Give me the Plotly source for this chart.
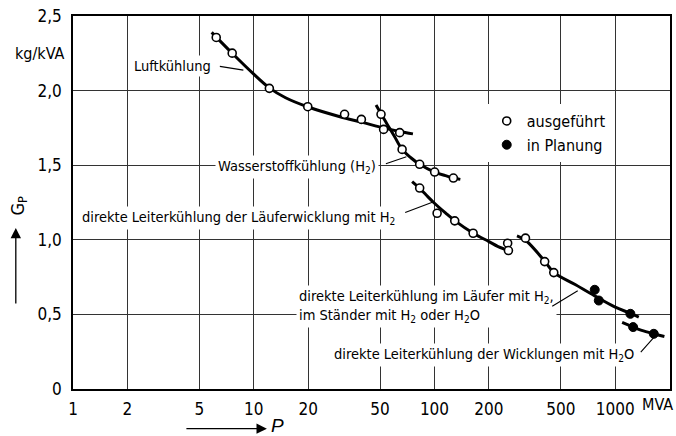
import numpy as np
import plotly.graph_objects as go

FONT = "DejaVu Sans Condensed, Liberation Sans Narrow, Arial Narrow, sans-serif"

# ---- data (P in MVA, G_P in kg/kVA) ----
x_tick_vals = [1, 2, 5, 10, 20, 50, 100, 200, 500, 1000]
x_tick_text = ["1", "2", "5", "10", "20", "50", "100", "200", "500", "1000"]
y_tick_vals = [0, 0.5, 1.0, 1.5, 2.0, 2.5]
y_tick_text = ["0", "0,5", "1,0", "1,5", "2,0", "2,5"]

# fitted curves
luft_P = [5.85, 7.6, 10, 12.2, 15, 20, 30, 40, 52, 64, 76]
luft_G = [2.39, 2.25, 2.11, 2.018, 1.952, 1.89, 1.825, 1.787, 1.75, 1.726, 1.71]
h2_P = [47.5, 50.6, 55, 60, 66.2, 74, 82.8, 100, 115, 127, 139]
h2_G = [1.903, 1.845, 1.77, 1.694, 1.606, 1.55, 1.506, 1.454, 1.43, 1.414, 1.405]
lw_P = [75.2, 82.8, 90, 100, 115, 130, 164, 200, 225, 263]
lw_G = [1.39, 1.345, 1.30, 1.245, 1.18, 1.127, 1.044, 0.988, 0.955, 0.925]
st_P = [286, 320, 407, 457, 600, 770, 1000, 1213, 1350]
st_G = [1.026, 0.995, 0.857, 0.782, 0.70, 0.624, 0.549, 0.507, 0.482]
wk_P = [1092, 1256, 1400, 1634, 1871]
wk_G = [0.446, 0.415, 0.393, 0.370, 0.352]

# measured points: executed (open) and planned (filled)
luft_pts_P = [6.2, 7.6, 12.2, 19.9, 31.8, 39.4, 52.3, 64.2]
luft_pts_G = [2.356, 2.251, 2.015, 1.892, 1.841, 1.807, 1.740, 1.718]
h2_pts_P = [50.6, 66.2, 82.8, 100.2, 127.2]
h2_pts_G = [1.841, 1.606, 1.506, 1.454, 1.414]
lw_pts_P = [82.8, 103.4, 129.4, 163.6, 254, 256.5]
lw_pts_G = [1.347, 1.178, 1.127, 1.044, 0.977, 0.928]
st_pts_P = [318.7, 407, 457]
st_pts_G = [1.011, 0.854, 0.780]
plan_P = [770, 811, 1213, 1256, 1634]
plan_G = [0.665, 0.593, 0.504, 0.415, 0.370]

fig = go.Figure()

for P, G in [(luft_P, luft_G), (h2_P, h2_G), (lw_P, lw_G), (st_P, st_G), (wk_P, wk_G)]:
    fig.add_trace(go.Scatter(x=P, y=G, mode="lines",
                             line=dict(color="black", width=3, shape="spline", smoothing=1.0),
                             showlegend=False, hoverinfo="skip"))

open_P = luft_pts_P + h2_pts_P + lw_pts_P + st_pts_P
open_G = luft_pts_G + h2_pts_G + lw_pts_G + st_pts_G
fig.add_trace(go.Scatter(x=open_P, y=open_G, mode="markers", name="ausgeführt",
                         marker=dict(symbol="circle", size=8, color="white", line=dict(color="black", width=1.6))))
fig.add_trace(go.Scatter(x=plan_P, y=plan_G, mode="markers", name="in Planung",
                         marker=dict(symbol="circle", size=9, color="black", line=dict(color="black", width=1))))

LBL = 14.5
annotations = []
# curve labels (text with white background); x in log10(P)
labels = [
    ("Luftkühlung", 0.78, 2.164, "right"),
    ("Wasserstoffkühlung (H<sub>2</sub>)", 1.695, 1.491, "right"),
    ("direkte Leiterkühlung der Läuferwicklung mit H<sub>2</sub>", 1.80, 1.147, "right"),
    ("direkte Leiterkühlung im Läufer mit H<sub>2</sub>,<br>im Ständer mit H<sub>2</sub> oder H<sub>2</sub>O", 1.2357, 0.554, "left"),
    ("direkte Leiterkühlung der Wicklungen mit H<sub>2</sub>O", 3.123, 0.230, "right"),
]
for t, x, y, anc in labels:
    annotations.append(dict(text=t, x=x, y=y, xref="x", yref="y", xanchor=anc, yanchor="middle", align="left",
                            showarrow=False, bgcolor="white", borderpad=2,
                            font=dict(family=FONT, size=LBL, color="black")))

# leader lines: tip in data coords (log10 P, G), tail offset in px
leaders = [
    (0.9425, 2.137, -25, -4),
    (1.8445, 1.557, -22, 7.6),
    (1.9956, 1.2557, -30, 11.5),
    (2.7925, 0.658, -27, 16.3),
    (3.2225, 0.357, -16, 18),
]
for x, y, ax, ay in leaders:
    annotations.append(dict(text="", x=x, y=y, xref="x", yref="y", ax=ax, ay=ay, showarrow=True,
                            arrowhead=0, arrowwidth=1.1, arrowcolor="black"))

# units and axis titles
annotations += [
    dict(text="kg/kVA", x=-0.0564, y=0.900, xref="paper", yref="paper", showarrow=False,
         xanchor="center", yanchor="middle", font=dict(family=FONT, size=16, color="black")),
    dict(text="MVA", x=3.236, y=-0.042, xref="x", yref="paper", showarrow=False,
         xanchor="center", yanchor="middle", font=dict(family=FONT, size=16, color="black")),
    dict(text="G<sub>P</sub>", x=-0.0913, y=0.4934, xref="paper", yref="paper", showarrow=False, textangle=-90,
         xanchor="center", yanchor="middle", font=dict(family=FONT, size=18, color="black")),
    dict(text="<i>P</i>", x=0.3429, y=-0.098, xref="paper", yref="paper", showarrow=False,
         xanchor="center", yanchor="middle", font=dict(family="Liberation Sans, Arial, sans-serif", size=19, color="black")),
    # axis arrows
    dict(text="", x=-0.0958, y=0.4319, xref="paper", yref="paper", ax=0, ay=77, showarrow=True,
         arrowhead=2, arrowsize=1.6, arrowwidth=1.3, arrowcolor="black"),
    dict(text="", x=0.3248, y=-0.1063, xref="paper", yref="paper", ax=-82, ay=0, showarrow=True,
         arrowhead=2, arrowsize=1.6, arrowwidth=1.3, arrowcolor="black"),
]

fig.update_layout(
    width=676, height=436,
    margin=dict(l=73, r=6, t=16, b=47, autoexpand=False),
    paper_bgcolor="white", plot_bgcolor="white",
    font=dict(family=FONT, size=17, color="black"),
    annotations=annotations,
    legend=dict(x=0.693, y=0.764, xanchor="left", yanchor="top", bgcolor="white",
                font=dict(family=FONT, size=16, color="black"), itemsizing="trace",
                tracegroupgap=0),
)
fig.update_xaxes(type="log", range=[0, 3.303], tickvals=x_tick_vals, ticktext=x_tick_text,
                 showgrid=True, gridcolor="#333", gridwidth=1, showline=True, linecolor="black", linewidth=1.5,
                 mirror=True, ticks="", zeroline=False, ticklabelstandoff=4, ticklabeloverflow="allow",
                 automargin=False, tickfont=dict(family=FONT, size=17, color="black"))
fig.update_yaxes(range=[0, 2.5], tickvals=y_tick_vals, ticktext=y_tick_text,
                 showgrid=True, gridcolor="#333", gridwidth=1, showline=True, linecolor="black", linewidth=1.5,
                 mirror=True, ticks="", zeroline=False, ticklabelstandoff=6, ticklabeloverflow="allow",
                 automargin=False, tickfont=dict(family=FONT, size=17, color="black"))

# remove the default 8px page margin so the figure sits at the window's top-left corner
fig.write_html("out.html", config={"displayModeBar": False},
               post_script="document.body.style.margin='0';document.body.style.overflow='hidden';")
